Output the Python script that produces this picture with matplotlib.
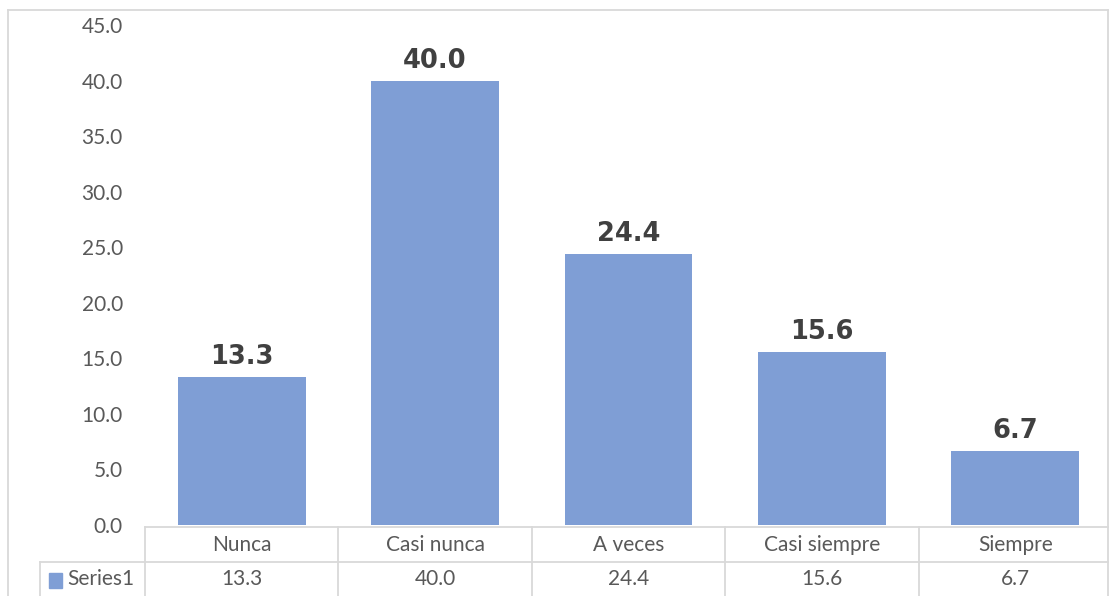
import matplotlib
matplotlib.use("Agg")
import matplotlib.pyplot as plt
import matplotlib.lines as lines
import matplotlib.patches as patches
from matplotlib.transforms import blended_transform_factory

categories = ["Nunca", "Casi nunca", "A veces", "Casi siempre", "Siempre"]
values = [13.3, 40.0, 24.4, 15.6, 6.7]
series_name = "Series1"
yticks = [0, 5, 10, 15, 20, 25, 30, 35, 40, 45]

W, H = 1109, 596
BAR = "#7F9ED5"
GRID = "#D9D9D9"
TXT = "#595959"
FS = 15

fig = plt.figure(figsize=(W / 100, H / 100), dpi=100)


def fx(px):
    return px / W


def fy(py):
    # py measured from the top of the image
    return 1 - py / H


# plot area: x 145..1112, y 25..525 (pixels)
ax = fig.add_axes([fx(145), fy(525), fx(1112) - fx(145), fy(25) - fy(525)])
n = len(categories)
ax.bar(range(n), values, width=0.66, color=BAR, zorder=2)
ax.set_xlim(-0.5, n - 0.5)
ax.set_ylim(0, 45)
ax.set_yticks(yticks)
ax.set_yticklabels([f"{v:.1f}" for v in yticks], fontsize=FS, color=TXT, family="Lato")
ax.tick_params(axis="y", length=0, pad=16)
ax.set_xticks([])
for s in ax.spines.values():
    s.set_visible(False)

for i, v in enumerate(values):
    ax.annotate(f"{v:.1f}", (i, v), xytext=(0, 5), textcoords="offset points",
                ha="center", va="bottom", fontsize=18.5, fontweight="bold",
                color="#404040", family="DejaVu Sans")

# data table below the axis, x in data units, y in figure fraction
tr = blended_transform_factory(ax.transData, fig.transFigure)
y_head_top = fy(527)
y_row_top = fy(562)
y_bottom = 0
x_left = -0.5
x_right = n - 0.5


def tline(xs, ys, transform):
    fig.add_artist(lines.Line2D(xs, ys, transform=transform, color=GRID, lw=1.3, clip_on=False))


tline([x_left, x_right], [y_head_top, y_head_top], tr)
tline([x_left, x_right], [y_row_top, y_row_top], tr)
for k in range(n + 1):
    xb = k - 0.5
    tline([xb, xb], [y_head_top, y_bottom], tr)

# row header part of the table (left of the plot)
tline([fx(40), fx(145)], [y_row_top, y_row_top], fig.transFigure)
tline([fx(40), fx(40)], [y_row_top, y_bottom], fig.transFigure)

for i, (c, v) in enumerate(zip(categories, values)):
    fig.text(i, fy(545), c, transform=tr, ha="center", va="center",
             fontsize=FS, color=TXT, family="Lato")
    fig.text(i, fy(579), f"{v:.1f}", transform=tr, ha="center", va="center",
             fontsize=FS, color=TXT, family="Lato")

fig.add_artist(patches.Rectangle((fx(49), fy(588)), fx(13), fy(573) - fy(588),
                                 transform=fig.transFigure, color=BAR))
fig.text(fx(67), fy(579), series_name, ha="left", va="center",
         fontsize=FS, color=TXT, family="Lato")

# chart border
tline([fx(8), fx(8)], [0, fy(10)], fig.transFigure)
tline([fx(8), fx(1108)], [fy(10), fy(10)], fig.transFigure)
tline([fx(1108), fx(1108)], [fy(10), 0], fig.transFigure)

fig.savefig("out.png", dpi=100, facecolor="white")
